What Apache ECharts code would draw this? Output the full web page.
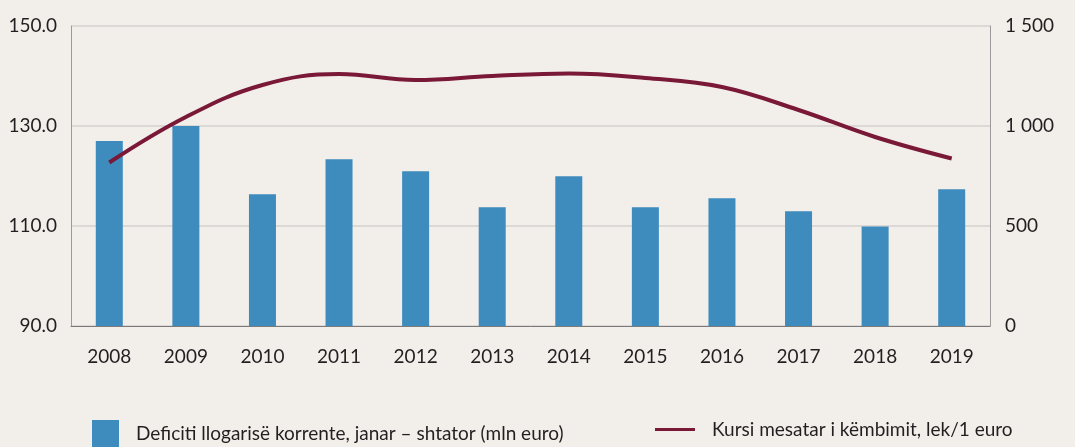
<!DOCTYPE html>
<html>
<head>
<meta charset="utf-8">
<script src="https://cdn.jsdelivr.net/npm/echarts@6/dist/echarts.min.js"></script>
<style>
  html, body { margin: 0; padding: 0; background: #f2efeb; }
  #chart { width: 1075px; height: 447px; }
</style>
</head>
<body>
<div id="chart"></div>
<script>
// vitet
const years = ['2008', '2009', '2010', '2011', '2012', '2013', '2014', '2015', '2016', '2017', '2018', '2019'];
// deficiti, mln euro (boshti djathtas)
const deficit = [925, 1000, 659, 834, 774, 594, 749, 594, 639, 574, 498, 684];
// kursi lek/euro (boshti majtas)
const exchangeRate = [122.7, 131.8, 138.2, 140.4, 139.2, 140.0, 140.5, 139.6, 137.8, 133.2, 127.8, 123.5];

const textColor = '#231f20';
const fontFamily = 'Lato, "Open Sans", sans-serif';

const chart = echarts.init(document.getElementById('chart'), null, { renderer: 'canvas' });

const option = {
  backgroundColor: '#f2efeb',
  animation: false,
  textStyle: { fontFamily: fontFamily, color: textColor },
  grid: { left: 71, right: 85, top: 26, bottom: 121 },
  legend: [{
    left: 87,
    top: 415,
    itemWidth: 27,
    itemHeight: 27,
    icon: 'rect',
    data: ['Deficiti llogarisë korrente, janar – shtator (mln euro)'],
    textStyle: { fontSize: 19, color: textColor, fontFamily: fontFamily, padding: [4, 0, 0, 12] }
  }, {
    left: 650,
    top: 415,
    itemWidth: 40,
    itemHeight: 27,
    data: [{ name: 'Kursi mesatar i këmbimit, lek/1 euro', icon: 'path://M0,12 L40,12 L40,15 L0,15 Z' }],
    textStyle: { fontSize: 19, color: textColor, fontFamily: fontFamily, padding: [4, 0, 0, 12] }
  }],
  xAxis: {
    type: 'category',
    data: years,
    axisLine: { lineStyle: { color: '#7a7a7a', width: 1 } },
    axisTick: { show: false },
    axisLabel: { color: textColor, fontSize: 19, margin: 21, fontFamily: fontFamily }
  },
  yAxis: [{
    type: 'value',
    min: 90,
    max: 150,
    interval: 20,
    position: 'left',
    axisLine: { show: true, lineStyle: { color: '#9a9a9a' } },
    axisTick: { show: false },
    axisLabel: { color: textColor, fontSize: 19, margin: 14, fontFamily: fontFamily,
      formatter: v => v.toFixed(1) },
    splitLine: { lineStyle: { color: '#d4d1ce', width: 1.5 } }
  }, {
    type: 'value',
    min: 0,
    max: 1500,
    interval: 500,
    position: 'right',
    axisLine: { show: true, lineStyle: { color: '#9a9a9a' } },
    axisTick: { show: false },
    axisLabel: { color: textColor, fontSize: 19, margin: 15, fontFamily: fontFamily,
      formatter: v => String(v).replace(/\B(?=(\d{3})+(?!\d))/g, ' ') },
    splitLine: { show: false }
  }],
  series: [{
    name: 'Deficiti llogarisë korrente, janar – shtator (mln euro)',
    type: 'bar',
    yAxisIndex: 1,
    data: deficit,
    barWidth: 27,
    itemStyle: { color: '#3e8bbd' },
    z: 2
  }, {
    name: 'Kursi mesatar i këmbimit, lek/1 euro',
    type: 'line',
    yAxisIndex: 0,
    data: exchangeRate,
    smooth: 0.4,
    symbol: 'none',
    lineStyle: { color: '#7a1838', width: 4 },
    itemStyle: { color: '#7a1838' },
    z: 3
  }]
};

chart.setOption(option);
</script>
</body>
</html>
